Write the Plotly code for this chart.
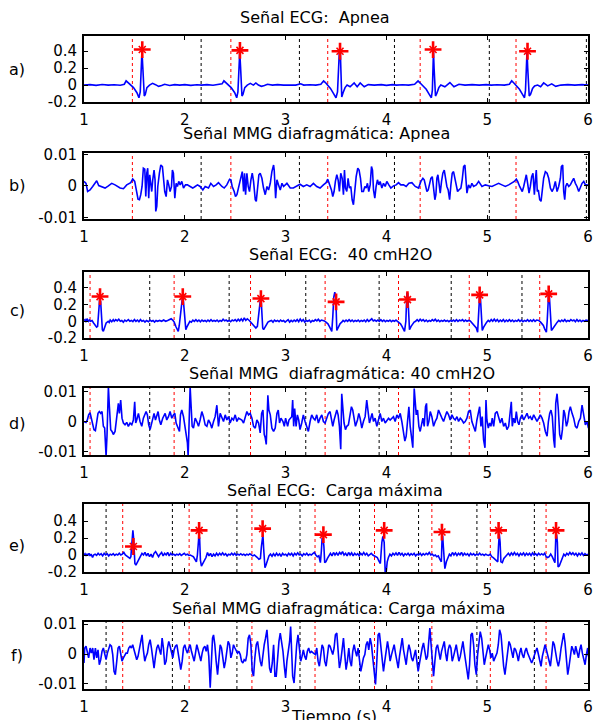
import plotly.graph_objects as go

# ---------------- DATA ----------------
# Panel a: ECG Apnea (time s, amplitude)
ecg_a_t = [1.00,1.06,1.12,1.18,1.24,1.30,1.36,1.40,1.418,1.435,1.465,1.491,1.525,1.545,1.558,1.566,1.575,1.583,1.590,1.598,1.608,1.624,1.650,1.680,1.710,1.740,1.770,1.800,1.850,1.900,1.950,2.000,2.060,2.120,2.165,2.220,2.280,2.340,2.370,2.388,2.405,2.435,2.460,2.495,2.515,2.527,2.536,2.545,2.553,2.560,2.567,2.577,2.595,2.620,2.650,2.680,2.705,2.730,2.760,2.790,2.820,2.870,2.920,2.980,3.040,3.100,3.150,3.180,3.240,3.300,3.350,3.377,3.395,3.420,3.445,3.470,3.500,3.515,3.525,3.533,3.543,3.550,3.557,3.570,3.590,3.610,3.640,3.680,3.710,3.740,3.780,3.820,3.880,3.950,4.000,4.060,4.100,4.160,4.220,4.280,4.314,4.330,4.360,4.395,4.425,4.446,4.456,4.462,4.467,4.473,4.480,4.487,4.500,4.520,4.540,4.580,4.630,4.670,4.720,4.780,4.850,4.920,4.990,5.040,5.100,5.170,5.220,5.243,5.260,5.290,5.320,5.350,5.370,5.380,5.388,5.395,5.402,5.410,5.417,5.430,5.450,5.470,5.500,5.530,5.560,5.600,5.640,5.680,5.730,5.800,5.870,5.940,6.000]
ecg_a_v = [0.000,0.005,-0.003,0.006,0.000,0.004,-0.002,0.010,0.050,0.030,0.000,-0.030,-0.090,-0.150,-0.080,0.220,0.400,0.220,-0.050,-0.130,-0.110,-0.030,0.000,0.020,0.005,-0.015,-0.005,0.010,-0.005,0.005,0.000,0.005,-0.003,0.004,0.000,0.005,-0.002,0.005,0.015,0.050,0.030,0.000,-0.030,-0.090,-0.150,-0.080,0.220,0.390,0.220,-0.050,-0.130,-0.110,-0.030,0.000,0.020,0.000,0.025,0.000,-0.015,-0.005,0.010,0.000,0.005,0.000,0.003,0.000,0.015,0.000,0.003,0.000,0.010,0.050,0.030,0.000,-0.040,-0.090,-0.150,-0.080,0.220,0.390,0.390,-0.060,-0.140,-0.090,-0.030,0.000,-0.020,0.025,-0.020,0.025,-0.020,0.005,0.000,0.005,-0.003,0.005,0.000,0.003,0.000,0.010,0.050,0.030,-0.010,-0.050,-0.110,-0.150,-0.060,0.250,0.400,0.200,-0.050,-0.130,-0.100,-0.030,0.000,-0.020,0.030,-0.020,0.010,0.000,0.005,0.000,0.005,0.000,0.003,0.000,0.010,0.050,0.030,-0.010,-0.050,-0.110,-0.150,-0.060,0.250,0.400,0.200,-0.050,-0.130,-0.110,-0.040,-0.010,0.000,-0.020,0.025,-0.010,0.015,-0.015,0.000,0.005,0.000,0.005,0.000]
peaks_a_t = [1.578, 2.547, 3.540, 4.463, 5.400]
peaks_a_v = [0.42, 0.41, 0.40, 0.42, 0.40]

# Panel b: MMG Apnea (values x 1e-3)
mmg_b_t = [1.000,1.020,1.036,1.060,1.086,1.109,1.126,1.146,1.175,1.209,1.242,1.275,1.308,1.331,1.358,1.391,1.424,1.464,1.483,1.503,1.523,1.536,1.550,1.563,1.576,1.589,1.603,1.613,1.623,1.632,1.642,1.652,1.662,1.672,1.682,1.695,1.705,1.712,1.722,1.732,1.748,1.762,1.778,1.788,1.801,1.815,1.828,1.841,1.854,1.868,1.877,1.887,1.901,1.914,1.927,1.940,1.954,1.970,1.987,2.007,2.026,2.053,2.079,2.103,2.126,2.152,2.179,2.202,2.235,2.258,2.285,2.311,2.334,2.368,2.391,2.417,2.444,2.457,2.470,2.490,2.503,2.517,2.536,2.556,2.570,2.583,2.593,2.603,2.616,2.629,2.642,2.656,2.669,2.682,2.699,2.709,2.722,2.735,2.748,2.765,2.781,2.798,2.815,2.831,2.848,2.864,2.881,2.887,2.901,2.914,2.930,2.947,2.964,2.980,3.013,3.046,3.077,3.110,3.143,3.176,3.210,3.243,3.276,3.309,3.342,3.375,3.402,3.418,3.435,3.455,3.468,3.481,3.494,3.508,3.521,3.534,3.547,3.561,3.574,3.584,3.594,3.607,3.620,3.633,3.647,3.660,3.673,3.686,3.700,3.716,3.729,3.743,3.756,3.772,3.786,3.799,3.812,3.825,3.839,3.852,3.862,3.872,3.885,3.898,3.911,3.925,3.938,3.955,3.971,3.988,4.004,4.024,4.044,4.070,4.097,4.120,4.143,4.170,4.196,4.223,4.253,4.286,4.319,4.342,4.362,4.375,4.388,4.402,4.415,4.428,4.441,4.455,4.468,4.481,4.491,4.501,4.511,4.521,4.534,4.547,4.560,4.574,4.587,4.600,4.613,4.627,4.640,4.653,4.666,4.680,4.693,4.706,4.719,4.739,4.752,4.766,4.779,4.789,4.799,4.815,4.832,4.848,4.865,4.892,4.915,4.948,4.981,5.014,5.047,5.080,5.113,5.146,5.180,5.213,5.246,5.269,5.289,5.302,5.322,5.335,5.348,5.362,5.375,5.388,5.401,5.415,5.428,5.441,5.454,5.468,5.478,5.487,5.497,5.507,5.521,5.534,5.547,5.560,5.577,5.594,5.610,5.627,5.643,5.660,5.676,5.693,5.709,5.726,5.736,5.749,5.759,5.769,5.779,5.792,5.809,5.825,5.842,5.858,5.875,5.891,5.908,5.925,5.941,5.958,5.974,5.991,6.004]
mmg_b_v = [1.4,0.8,-1.8,-1.3,-0.2,1.0,1.6,0.1,-0.2,-0.7,0.0,0.8,0.3,-0.2,-0.7,-0.9,0.3,1.0,2.2,1.4,-1.8,-4.2,-4.4,-2.8,-0.2,5.6,5.3,-3.4,4.0,5.6,-3.9,3.5,0.8,-1.8,1.9,5.0,1.9,-8.1,-6.5,-0.2,4.0,6.6,6.1,1.9,-1.8,-3.4,1.9,0.3,-1.8,-0.2,5.0,4.0,-3.9,0.8,-0.2,1.4,0.3,1.4,-0.7,0.3,0.3,-0.2,-0.7,-0.2,0.3,-0.2,-1.3,-0.2,-0.7,0.8,-0.2,0.3,1.0,-0.2,-0.7,0.3,2.1,1.9,-0.2,-1.8,-3.4,-2.8,-0.2,3.2,4.5,-1.8,4.0,-2.8,4.0,-0.2,-1.8,1.9,4.0,1.4,-4.4,-4.9,-0.2,3.5,4.0,2.4,-0.7,-2.8,-0.2,-1.3,0.8,4.5,6.6,5.0,-3.9,1.9,0.3,-1.3,0.8,-0.2,0.8,-0.7,-0.7,-0.2,0.5,-0.2,0.3,-0.2,0.8,-0.2,-0.7,0.3,1.0,2.1,0.8,-1.3,-3.4,-1.8,1.4,3.5,1.9,-1.8,4.0,2.4,-2.8,5.0,-0.7,-1.8,2.4,-0.7,-0.2,-4.4,-6.0,-1.8,2.9,5.6,5.0,2.4,-1.8,-1.8,-0.2,-0.7,0.8,-1.8,0.3,6.1,5.0,-1.3,-3.9,-0.2,1.9,0.3,1.4,-0.7,0.8,-0.2,1.4,0.3,-0.7,0.0,0.3,1.0,0.3,0.3,-0.2,0.8,1.0,-0.2,-0.7,1.4,2.4,1.9,-0.2,-1.8,-1.3,0.3,2.4,2.9,-0.2,-4.4,-2.8,2.4,3.5,-0.2,-2.3,1.4,4.0,5.0,1.4,-0.2,-1.3,-4.4,0.3,4.0,4.5,1.9,-0.7,-1.8,-1.3,-0.7,1.9,6.1,6.6,0.3,-2.3,0.3,-0.7,0.8,-0.2,0.3,1.4,-0.2,0.3,0.0,-0.2,0.3,0.8,0.3,-0.2,0.3,0.8,1.4,2.1,1.4,-0.2,-1.3,-1.8,-0.2,2.4,3.5,0.8,-2.3,-0.2,2.9,4.0,-2.8,1.9,5.0,-1.8,-1.3,-4.4,-4.9,-1.3,2.4,4.5,4.0,2.4,-0.7,-1.8,-0.7,1.4,-1.8,-0.2,2.4,6.1,6.6,-1.8,-4.4,-0.2,0.8,-0.2,0.3,1.4,2.4,0.8,-0.2,-1.8,-0.2,0.8,1.4,0.3,0.3,0.0]

# Panel c: ECG 40 cmH2O
ecg_c_t = [1.000,1.010,1.020,1.030,1.045,1.055,1.065,1.080,1.095,1.110,1.125,1.135,1.145,1.155,1.165,1.175,1.182,1.192,1.205,1.220,1.240,1.250,1.260,1.275,1.290,1.300,1.315,1.330,1.345,1.360,1.375,1.390,1.405,1.420,1.440,1.455,1.470,1.485,1.500,1.515,1.530,1.545,1.560,1.575,1.590,1.605,1.620,1.640,1.655,1.670,1.685,1.700,1.715,1.730,1.750,1.770,1.790,1.810,1.830,1.850,1.865,1.880,1.895,1.910,1.925,1.935,1.945,1.960,1.975,1.985,1.995,2.002,2.010,2.020,2.035,2.050,2.065,2.080,2.095,2.110,2.125,2.140,2.155,2.170,2.185,2.200,2.215,2.230,2.245,2.260,2.275,2.290,2.305,2.320,2.335,2.350,2.365,2.380,2.395,2.410,2.425,2.440,2.455,2.470,2.485,2.500,2.515,2.530,2.545,2.560,2.575,2.590,2.605,2.620,2.640,2.655,2.670,2.690,2.705,2.720,2.735,2.748,2.758,2.765,2.773,2.782,2.795,2.810,2.825,2.840,2.860,2.875,2.890,2.905,2.920,2.935,2.950,2.965,2.980,2.995,3.010,3.025,3.040,3.055,3.070,3.085,3.100,3.115,3.130,3.145,3.160,3.175,3.190,3.205,3.220,3.235,3.250,3.265,3.280,3.295,3.310,3.325,3.340,3.355,3.370,3.385,3.400,3.420,3.435,3.450,3.458,3.468,3.478,3.488,3.498,3.508,3.524,3.540,3.557,3.570,3.585,3.600,3.615,3.630,3.645,3.660,3.675,3.690,3.705,3.720,3.735,3.750,3.765,3.780,3.795,3.810,3.825,3.840,3.855,3.870,3.885,3.900,3.915,3.930,3.945,3.960,3.975,3.990,4.005,4.020,4.035,4.050,4.065,4.080,4.095,4.110,4.125,4.140,4.155,4.170,4.180,4.193,4.203,4.212,4.218,4.229,4.245,4.260,4.275,4.290,4.305,4.320,4.335,4.350,4.365,4.380,4.395,4.410,4.425,4.440,4.455,4.470,4.485,4.500,4.515,4.530,4.545,4.560,4.575,4.590,4.605,4.620,4.635,4.650,4.665,4.680,4.695,4.710,4.725,4.740,4.755,4.770,4.785,4.800,4.815,4.832,4.850,4.865,4.880,4.892,4.905,4.915,4.925,4.932,4.938,4.951,4.965,4.980,4.995,5.010,5.025,5.040,5.055,5.070,5.085,5.100,5.115,5.130,5.145,5.160,5.175,5.190,5.205,5.220,5.235,5.250,5.265,5.280,5.295,5.310,5.325,5.340,5.355,5.370,5.385,5.400,5.415,5.430,5.445,5.460,5.475,5.490,5.511,5.530,5.544,5.557,5.570,5.587,5.595,5.603,5.610,5.617,5.625,5.637,5.650,5.665,5.680,5.695,5.710,5.725,5.740,5.755,5.770,5.785,5.800,5.815,5.830,5.845,5.860,5.875,5.890,5.905,5.920,5.935,5.950,5.965,5.980,5.995,6.000]
ecg_c_v = [0.010,0.020,-0.010,0.030,0.000,0.015,0.000,0.010,-0.020,-0.050,-0.070,-0.060,0.100,0.260,0.240,0.000,-0.100,-0.120,-0.060,-0.020,0.000,-0.015,0.015,-0.005,0.020,0.000,0.020,0.005,0.025,0.000,0.010,-0.010,0.015,0.000,0.020,0.000,0.010,-0.005,0.020,0.000,0.015,-0.005,0.020,0.000,0.010,-0.010,0.010,-0.005,0.015,0.000,0.010,-0.010,0.010,0.000,0.010,0.000,0.015,0.000,0.010,0.020,0.030,0.015,-0.010,-0.060,-0.090,-0.120,-0.050,0.150,0.270,0.260,0.100,-0.080,-0.100,-0.070,-0.030,0.000,-0.010,0.015,0.000,0.020,0.000,0.015,-0.005,0.015,0.000,0.010,-0.005,0.015,0.000,0.020,0.000,0.010,0.000,0.015,-0.005,0.010,0.000,0.025,0.005,0.015,0.000,0.010,-0.005,0.015,0.005,0.020,0.000,0.025,0.005,0.030,0.005,0.040,0.010,0.030,0.010,-0.010,-0.030,-0.060,-0.080,-0.060,0.100,0.240,0.250,0.100,-0.080,-0.100,-0.070,-0.030,-0.010,0.000,0.010,-0.010,0.015,0.000,0.010,-0.005,0.015,0.000,0.010,-0.010,0.005,0.020,-0.010,0.010,-0.005,0.015,0.000,0.020,-0.005,0.028,0.000,0.020,-0.010,0.010,0.000,0.015,-0.010,0.010,0.000,0.020,0.005,0.025,0.000,0.015,0.010,0.005,-0.010,-0.030,-0.065,-0.100,-0.120,0.050,0.290,0.350,0.290,-0.110,-0.065,-0.030,-0.010,0.010,-0.005,0.015,0.000,0.020,0.000,0.015,-0.005,0.010,0.000,0.015,-0.005,0.010,0.000,0.015,-0.005,0.020,0.000,0.015,0.030,0.005,0.015,0.000,0.015,0.000,0.020,0.000,0.015,-0.005,0.010,0.000,0.015,-0.005,0.010,0.000,0.015,0.000,-0.010,-0.030,-0.060,-0.100,-0.120,0.000,0.340,0.330,0.100,-0.100,-0.060,-0.030,-0.010,0.000,0.020,0.000,0.025,0.005,0.020,0.000,0.015,-0.005,0.010,0.000,0.020,0.005,0.025,0.000,0.015,-0.005,0.010,0.000,0.015,0.000,0.010,-0.005,0.010,0.000,0.015,0.000,0.020,0.000,0.015,0.005,0.020,0.000,0.015,0.000,0.010,0.005,-0.020,-0.030,-0.060,-0.080,-0.130,0.050,0.310,0.300,0.150,-0.110,-0.070,-0.030,-0.010,0.010,-0.005,0.020,0.000,0.025,0.000,0.020,-0.005,0.015,0.000,0.020,-0.005,0.015,0.000,0.020,0.000,0.015,-0.005,0.010,0.000,0.020,0.000,0.015,-0.005,0.010,0.000,0.020,0.000,0.015,0.000,0.020,0.000,0.015,0.010,-0.010,-0.030,-0.050,-0.090,-0.130,0.000,0.300,0.350,0.300,0.100,-0.110,-0.090,-0.060,-0.030,-0.010,0.010,-0.005,0.015,0.000,0.020,-0.005,0.010,0.000,0.020,0.005,0.015,-0.005,0.020,0.000,0.015,-0.005,0.010,0.000,0.015,0.005,0.010]
peaks_c_t = [1.159, 1.980, 2.755, 3.501, 4.209, 4.925, 5.610]
peaks_c_v = [0.296, 0.296, 0.272, 0.232, 0.260, 0.316, 0.328]

# Panel d: MMG 40 cmH2O (values x 1e-3)
mmg_d_t = [1.000,1.020,1.033,1.046,1.060,1.073,1.086,1.099,1.113,1.126,1.139,1.152,1.166,1.179,1.192,1.205,1.219,1.228,1.242,1.252,1.265,1.278,1.291,1.308,1.325,1.341,1.351,1.364,1.377,1.391,1.407,1.424,1.440,1.457,1.474,1.490,1.503,1.513,1.523,1.540,1.556,1.573,1.589,1.616,1.629,1.642,1.656,1.669,1.682,1.695,1.709,1.722,1.735,1.748,1.762,1.781,1.805,1.821,1.838,1.854,1.871,1.887,1.901,1.914,1.934,1.947,1.957,1.970,1.987,2.000,2.013,2.026,2.033,2.040,2.053,2.063,2.073,2.086,2.103,2.119,2.136,2.152,2.169,2.185,2.202,2.219,2.235,2.252,2.268,2.285,2.301,2.318,2.334,2.351,2.368,2.384,2.401,2.417,2.434,2.450,2.467,2.483,2.500,2.517,2.533,2.550,2.566,2.583,2.599,2.616,2.632,2.649,2.666,2.682,2.699,2.715,2.732,2.748,2.762,2.775,2.788,2.798,2.808,2.815,2.824,2.834,2.848,2.864,2.881,2.897,2.914,2.927,2.940,2.954,2.974,2.987,3.000,3.020,3.033,3.061,3.070,3.080,3.090,3.104,3.117,3.130,3.143,3.160,3.176,3.193,3.210,3.226,3.243,3.259,3.276,3.292,3.309,3.325,3.342,3.359,3.375,3.392,3.408,3.425,3.441,3.455,3.468,3.481,3.494,3.508,3.521,3.534,3.547,3.557,3.567,3.580,3.594,3.607,3.623,3.640,3.653,3.666,3.680,3.693,3.713,3.726,3.739,3.756,3.772,3.789,3.805,3.819,3.832,3.845,3.858,3.872,3.888,3.905,3.921,3.938,3.955,3.971,3.988,4.004,4.021,4.037,4.054,4.070,4.087,4.104,4.120,4.137,4.153,4.170,4.183,4.196,4.209,4.223,4.236,4.249,4.262,4.276,4.286,4.296,4.309,4.322,4.335,4.349,4.362,4.375,4.388,4.398,4.408,4.421,4.435,4.451,4.468,4.484,4.501,4.517,4.534,4.551,4.567,4.584,4.600,4.617,4.633,4.650,4.666,4.683,4.700,4.716,4.733,4.749,4.766,4.782,4.799,4.815,4.832,4.848,4.865,4.882,4.898,4.915,4.925,4.938,4.951,4.964,4.978,4.988,4.997,5.011,5.024,5.037,5.050,5.064,5.080,5.097,5.113,5.130,5.146,5.163,5.180,5.196,5.213,5.229,5.239,5.249,5.262,5.276,5.289,5.302,5.315,5.329,5.345,5.362,5.378,5.395,5.411,5.428,5.444,5.461,5.478,5.494,5.511,5.527,5.544,5.560,5.577,5.594,5.607,5.620,5.633,5.646,5.660,5.670,5.680,5.693,5.706,5.719,5.733,5.746,5.759,5.769,5.786,5.799,5.812,5.825,5.842,5.858,5.875,5.891,5.908,5.925,5.941,5.958,5.974,5.991,6.004]
mmg_d_v = [0,-0.3,0.5,2.2,2.9,1.1,-1.1,-2.7,-3.0,-0.5,2.7,3.3,2.7,3.3,-1.6,-2.2,-11.5,-4.9,11.5,4.9,-2.7,-3.3,-4.3,-3.3,1.6,6.0,2.7,7.1,1.1,-0.5,-1.1,-0.3,-1.6,-0.5,-1.1,0.5,6.5,-0.5,0.5,2.7,0,-1.6,1.1,3.3,2.2,-1.1,-2.7,-0.5,1.6,2.7,0.5,2.2,3.3,0.5,-1.1,1.1,2.7,0.5,1.6,3.3,1.1,2.2,2.7,-0.5,-2.2,-3.3,2.2,3.8,1.6,-1.6,-4.9,-7.1,-11.5,0.5,11.5,4.9,-1.6,-2.2,1.1,0,-1.6,0.5,3.3,1.6,-1.1,-1.6,0.5,-0.5,-2.2,0,1.6,5.4,-1.6,2.7,1.1,0,2.2,0.5,1.6,-0.5,1.1,0.5,2.2,0,1.1,0.8,0.5,-0.5,1.6,3.3,2.2,2.7,1.1,-1.6,-2.2,0.5,-0.5,-3.8,2.7,3.8,-4.3,-5.4,-7.6,-1.1,8.7,3.8,2.2,-2.2,-3.3,-2.2,2.7,3.8,-0.5,1.1,0,-1.6,1.1,-1.6,0.5,1.6,7.1,-1.6,4.3,-1.6,2.2,0.5,-2.7,-0.5,2.2,0,-1.6,-3.3,0,2.2,1.1,0.5,2.2,-0.5,1.1,2.2,0,-0.5,1.1,2.7,3.3,1.1,-1.6,0.5,2.7,3.8,2.2,-1.6,-9.2,9.2,4.9,-0.5,-2.7,-1.6,-1.1,2.7,4.9,3.8,1.1,-1.6,0.5,2.7,1.1,-2.2,0,1.6,7.1,2.2,-0.5,1.1,2.7,0,1.1,-1.6,0.5,2.7,0,1.1,-0.5,0.5,1.1,0.5,1.1,1.6,0,2.2,1.1,2.7,0,-3.3,-6.5,-4.9,1.1,4.9,-1.6,-4.9,-8.7,10.9,4.9,2.2,3.8,-1.6,-3.3,-1.1,1.1,-1.6,4.9,6.0,-1.6,0,3.3,1.6,-1.6,0,1.1,3.8,2.2,1.1,0,1.6,3.3,2.2,0.5,2.2,1.1,0.5,1.6,0,1.1,0.5,-0.5,0,1.1,3.3,3.8,0,-1.6,-3.3,0.5,3.8,4.9,-1.6,1.6,-6.0,-8.7,7.1,0.5,-2.2,-0.5,-1.6,1.1,-1.6,2.7,3.3,1.1,-0.5,1.1,-1.6,-0.5,-2.7,-1.6,3.8,6.5,-1.6,1.1,-0.5,3.3,0,-1.1,1.1,2.2,0.5,1.6,2.7,1.1,1.6,0.5,2.2,1.1,0,1.1,2.2,1.1,-0.5,-3.3,-4.9,0,2.7,3.8,1.6,-6.0,-8.7,6.0,9.2,3.8,-4.3,-6.0,-2.7,3.8,2.7,-1.6,0,3.3,4.9,2.7,1.1,-1.6,-2.2,0,1.1,5.4,1.6,-1.1,0,-2.2]

# Panel e: ECG Carga maxima
ecg_e_t = [1.000,1.010,1.020,1.030,1.040,1.050,1.060,1.070,1.085,1.095,1.110,1.125,1.140,1.155,1.170,1.185,1.200,1.215,1.230,1.245,1.260,1.275,1.290,1.305,1.320,1.335,1.350,1.365,1.380,1.395,1.410,1.425,1.440,1.455,1.465,1.475,1.485,1.492,1.498,1.505,1.515,1.530,1.545,1.560,1.575,1.590,1.605,1.620,1.635,1.650,1.665,1.680,1.695,1.710,1.725,1.740,1.755,1.770,1.785,1.800,1.815,1.830,1.845,1.860,1.875,1.890,1.905,1.920,1.935,1.950,1.965,1.980,1.995,2.010,2.025,2.040,2.055,2.070,2.085,2.100,2.115,2.125,2.133,2.140,2.147,2.155,2.165,2.180,2.195,2.210,2.225,2.240,2.255,2.270,2.285,2.300,2.315,2.330,2.345,2.360,2.375,2.390,2.405,2.420,2.435,2.450,2.465,2.480,2.495,2.510,2.525,2.540,2.555,2.570,2.585,2.600,2.615,2.630,2.645,2.660,2.675,2.690,2.705,2.720,2.735,2.750,2.760,2.768,2.775,2.782,2.788,2.795,2.805,2.820,2.835,2.850,2.865,2.880,2.895,2.910,2.925,2.940,2.955,2.970,2.985,3.000,3.015,3.030,3.045,3.060,3.075,3.090,3.105,3.120,3.135,3.150,3.165,3.180,3.195,3.210,3.225,3.240,3.255,3.270,3.285,3.300,3.315,3.330,3.345,3.355,3.362,3.372,3.380,3.388,3.400,3.415,3.430,3.445,3.460,3.475,3.490,3.505,3.520,3.535,3.550,3.565,3.580,3.595,3.610,3.625,3.640,3.655,3.670,3.685,3.700,3.715,3.730,3.745,3.760,3.775,3.790,3.805,3.820,3.835,3.850,3.865,3.880,3.895,3.910,3.925,3.940,3.955,3.965,3.978,3.988,3.998,4.008,4.020,4.035,4.050,4.065,4.080,4.095,4.110,4.125,4.140,4.155,4.170,4.185,4.200,4.215,4.230,4.245,4.260,4.275,4.290,4.305,4.320,4.335,4.350,4.365,4.380,4.395,4.410,4.425,4.440,4.455,4.470,4.485,4.500,4.515,4.530,4.545,4.552,4.558,4.565,4.572,4.580,4.595,4.610,4.625,4.640,4.655,4.670,4.685,4.700,4.715,4.730,4.745,4.760,4.775,4.790,4.805,4.820,4.835,4.850,4.865,4.880,4.895,4.910,4.925,4.940,4.955,4.970,4.985,5.000,5.015,5.030,5.045,5.060,5.075,5.090,5.105,5.112,5.120,5.128,5.136,5.150,5.165,5.180,5.195,5.210,5.225,5.240,5.255,5.270,5.285,5.300,5.315,5.330,5.345,5.360,5.375,5.390,5.405,5.420,5.435,5.450,5.465,5.480,5.495,5.510,5.525,5.540,5.555,5.570,5.585,5.600,5.615,5.630,5.645,5.660,5.672,5.680,5.688,5.696,5.703,5.715,5.730,5.745,5.760,5.775,5.790,5.805,5.820,5.835,5.850,5.865,5.880,5.895,5.910,5.925,5.940,5.955,5.970,5.985,6.000]
ecg_e_v = [0.000,0.015,-0.010,0.010,0.000,0.020,-0.010,0.010,-0.030,0.000,0.010,-0.005,0.020,0.000,0.015,-0.010,0.020,0.000,0.015,-0.010,0.010,0.000,0.015,-0.005,0.010,0.000,0.020,0.000,0.010,0.030,0.000,-0.010,-0.020,-0.040,-0.020,0.100,0.290,0.200,-0.050,-0.100,-0.120,-0.080,-0.040,-0.010,0.020,0.000,0.030,-0.010,0.020,-0.020,0.010,-0.030,0.020,0.040,0.000,-0.020,0.010,0.030,-0.010,0.020,0.000,0.030,-0.010,0.020,0.000,0.010,-0.005,0.010,0.000,0.015,-0.005,0.010,0.020,0.000,0.010,-0.005,0.000,-0.010,-0.020,-0.050,-0.080,0.000,0.200,0.230,0.200,-0.060,-0.130,-0.100,-0.060,-0.030,0.030,-0.010,0.020,-0.020,0.010,-0.010,0.020,-0.005,0.020,0.000,0.025,0.000,0.015,-0.010,0.010,0.000,0.020,0.000,0.020,-0.005,0.010,0.000,0.015,0.000,0.010,-0.005,0.010,0.000,0.015,0.000,-0.010,0.000,-0.010,-0.030,-0.050,-0.040,0.100,0.240,0.240,0.080,-0.100,-0.150,-0.120,-0.060,-0.010,0.010,-0.015,0.015,-0.010,0.020,-0.005,0.015,-0.015,0.020,0.000,0.010,-0.010,0.020,0.000,0.020,-0.010,0.020,0.000,0.025,0.000,0.010,-0.010,0.015,0.000,0.020,-0.005,0.010,0.000,0.015,0.030,0.000,-0.020,-0.010,-0.090,0.050,0.190,0.190,0.100,-0.090,-0.080,-0.040,-0.010,0.020,-0.010,0.030,0.000,0.025,-0.005,0.030,0.010,0.040,0.000,0.020,-0.010,0.030,0.000,0.025,-0.010,0.020,0.000,0.015,-0.010,0.020,0.000,0.030,0.000,0.020,-0.010,0.010,0.020,0.000,-0.010,-0.020,-0.030,-0.070,-0.100,0.150,0.220,0.150,-0.200,-0.200,-0.080,-0.030,0.010,-0.010,0.020,0.000,0.025,-0.005,0.030,0.000,0.020,-0.010,0.015,0.000,0.020,-0.005,0.015,0.000,0.020,-0.010,0.010,0.000,0.020,-0.005,0.015,0.000,0.020,0.005,0.030,0.000,0.010,-0.010,0.000,-0.020,-0.010,-0.050,-0.080,0.190,0.230,0.100,-0.130,-0.160,-0.080,-0.030,0.010,-0.010,0.030,0.000,0.025,-0.005,0.020,0.000,0.030,-0.005,0.020,0.000,0.015,-0.010,0.020,0.000,0.015,-0.005,0.010,0.000,0.020,0.000,0.010,-0.005,0.010,0.000,-0.005,0.010,-0.020,-0.030,-0.050,-0.070,-0.080,0.100,0.250,0.150,-0.080,-0.090,-0.040,-0.020,0.000,0.020,-0.005,0.025,0.000,0.030,0.000,0.020,-0.010,0.020,0.000,0.025,-0.005,0.020,0.000,0.020,-0.005,0.025,0.000,0.015,-0.005,0.020,0.000,0.015,0.000,0.020,-0.020,-0.030,-0.020,0.010,-0.020,-0.060,-0.090,0.190,0.240,0.150,-0.140,-0.130,-0.080,-0.030,0.010,-0.010,0.020,0.000,0.030,0.005,0.025,0.000,0.020,-0.010,0.020,0.000,0.025,-0.005,0.015,0.000,0.010]
peaks_e_t = [1.490, 2.142, 2.772, 3.375, 3.978, 4.551, 5.113, 5.683]
peaks_e_v = [0.10, 0.29, 0.31, 0.24, 0.29, 0.27, 0.29, 0.29]

# Panel f: MMG Carga maxima (values x 1e-3)
mmg_f_t = [1.000,1.007,1.020,1.033,1.046,1.060,1.073,1.086,1.099,1.113,1.126,1.139,1.152,1.166,1.179,1.192,1.205,1.219,1.232,1.245,1.258,1.272,1.285,1.298,1.311,1.325,1.338,1.351,1.364,1.377,1.391,1.404,1.417,1.430,1.444,1.457,1.470,1.483,1.497,1.510,1.523,1.536,1.550,1.563,1.576,1.589,1.603,1.616,1.629,1.642,1.656,1.669,1.682,1.695,1.709,1.722,1.735,1.748,1.762,1.775,1.788,1.801,1.815,1.828,1.841,1.854,1.868,1.881,1.894,1.907,1.921,1.934,1.947,1.960,1.974,1.987,2.000,2.013,2.026,2.040,2.053,2.066,2.079,2.093,2.106,2.119,2.132,2.146,2.159,2.172,2.185,2.199,2.212,2.225,2.238,2.252,2.262,2.275,2.285,2.298,2.311,2.325,2.338,2.351,2.364,2.377,2.391,2.404,2.417,2.430,2.444,2.457,2.470,2.483,2.497,2.510,2.523,2.536,2.550,2.563,2.576,2.589,2.603,2.616,2.629,2.642,2.656,2.669,2.682,2.695,2.709,2.722,2.735,2.748,2.762,2.775,2.788,2.801,2.815,2.828,2.841,2.854,2.868,2.881,2.894,2.907,2.921,2.934,2.947,2.960,2.974,2.987,3.000,3.013,3.026,3.040,3.050,3.070,3.084,3.097,3.110,3.123,3.137,3.150,3.163,3.176,3.190,3.203,3.216,3.229,3.243,3.256,3.276,3.296,3.309,3.322,3.335,3.349,3.362,3.375,3.388,3.402,3.415,3.428,3.441,3.455,3.468,3.481,3.494,3.508,3.521,3.534,3.547,3.561,3.574,3.587,3.600,3.613,3.627,3.640,3.653,3.666,3.680,3.693,3.706,3.719,3.733,3.746,3.759,3.772,3.786,3.799,3.812,3.825,3.839,3.852,3.865,3.878,3.892,3.905,3.918,3.931,3.945,3.958,3.971,3.984,3.998,4.011,4.024,4.037,4.051,4.064,4.077,4.090,4.104,4.117,4.130,4.143,4.157,4.170,4.183,4.196,4.209,4.223,4.236,4.249,4.262,4.276,4.289,4.302,4.315,4.329,4.342,4.355,4.368,4.382,4.395,4.408,4.421,4.431,4.441,4.455,4.468,4.481,4.494,4.507,4.521,4.534,4.547,4.560,4.574,4.587,4.600,4.613,4.627,4.640,4.653,4.666,4.680,4.693,4.706,4.719,4.733,4.746,4.759,4.772,4.786,4.799,4.812,4.825,4.839,4.852,4.865,4.878,4.892,4.905,4.918,4.931,4.945,4.958,4.971,4.984,4.997,5.011,5.024,5.037,5.050,5.064,5.077,5.097,5.110,5.123,5.137,5.150,5.163,5.176,5.190,5.203,5.216,5.229,5.243,5.256,5.269,5.282,5.296,5.309,5.322,5.335,5.348,5.362,5.375,5.388,5.401,5.415,5.428,5.441,5.454,5.468,5.481,5.494,5.507,5.521,5.534,5.547,5.560,5.574,5.587,5.600,5.613,5.627,5.640,5.653,5.666,5.680,5.693,5.706,5.719,5.733,5.746,5.759,5.772,5.786,5.799,5.812,5.825,5.839,5.852,5.865,5.878,5.891,5.905,5.918,5.931,5.944,5.958,5.971,5.984,5.997,6.004]
mmg_f_v = [-3.0,2.0,2.6,0.9,-1.3,2.0,0.3,2.0,-1.9,2.0,-1.3,1.4,-3.6,-1.9,0.9,2.0,-0.2,-1.9,0.3,2.0,3.1,2.6,-0.2,-5.8,-6.9,-2.4,2.0,2.6,-0.2,-2.4,-1.3,-0.2,0.3,0.3,2.0,2.6,2.0,3.1,1.4,-0.8,-1.9,-0.8,2.0,4.2,6.4,1.4,-2.4,-0.8,0.3,3.1,4.8,2.0,-2.4,-4.7,-0.8,2.0,3.1,1.4,-0.2,5.3,2.0,-3.6,-2.4,2.0,4.2,2.6,0.3,-1.3,1.4,2.6,3.1,0.9,-2.4,-5.2,-2.4,2.0,3.1,1.4,0.3,2.0,3.1,0.9,-1.3,-2.4,0.3,3.1,1.4,-1.3,-2.4,0.3,2.0,2.6,0.9,3.1,-0.8,-11.3,-2.4,5.3,6.4,3.1,-2.4,-6.9,-1.9,3.1,2.0,-1.3,-4.7,-2.4,1.4,4.2,3.1,-1.3,0.3,3.1,2.0,0.9,0.3,0.9,-0.2,-2.4,-3.0,-1.9,-2.4,-0.2,5.3,6.4,3.1,-5.8,-7.4,-1.3,3.1,4.2,0.3,-2.4,-4.1,0.3,3.1,5.3,8.1,2.0,-4.7,-6.3,-3.0,3.1,-7.4,-7.4,-0.2,4.2,7.0,4.2,0.9,-4.1,-8.0,-2.4,0.3,4.2,9.2,-7.4,-9.7,-2.4,3.1,6.4,2.0,-2.4,-0.8,1.4,-0.8,-1.9,0.9,2.0,0.3,0.9,0.3,-0.2,2.0,-2.4,-4.1,0.9,3.1,2.0,-2.4,-4.1,-0.8,3.1,2.6,0.9,-0.2,2.0,6.4,7.0,-0.8,-4.7,-2.4,2.0,5.3,-0.2,-5.2,-2.4,2.0,-2.4,-4.1,0.9,3.1,0.9,-0.8,2.0,-1.3,-5.8,-3.6,-1.3,-0.2,3.1,4.2,1.4,5.3,3.1,-1.3,-5.8,-10.2,-2.4,6.4,7.0,3.1,-2.4,-5.8,-2.4,2.0,4.2,1.4,-2.4,-0.2,1.4,3.1,0.3,-2.4,-4.7,-0.8,3.1,5.3,1.4,-1.9,-3.6,0.3,3.1,1.4,-1.3,-2.4,-0.2,1.4,-2.4,-5.8,-3.0,0.3,2.0,3.7,0.9,-1.9,-0.8,5.3,8.7,4.2,-3.6,-7.4,-2.4,2.0,3.1,-0.2,-1.9,0.9,3.1,4.2,0.3,-2.4,1.4,3.1,2.0,-2.4,-0.8,1.4,3.1,0.3,-2.4,-0.8,2.0,4.2,0.9,-2.4,-5.8,-8.5,-3.6,6.4,7.0,3.1,-3.6,-6.9,-0.2,4.2,7.5,5.3,-0.8,-3.6,-1.3,1.4,3.1,1.4,-1.3,0.3,-2.4,-1.3,0.3,3.1,8.1,6.4,-0.2,-4.1,-6.9,-2.4,2.0,4.2,3.1,0.3,-1.3,2.0,1.4,-0.2,-2.4,0.3,2.0,-0.2,-1.3,0.9,2.0,0.3,-0.8,-2.4,-3.0,-1.9,-0.2,0.9,2.0,0.3,-2.4,-4.1,-0.8,1.4,3.1,1.4,-0.8,-2.4,-4.1,-0.2,4.2,3.1,-0.2,-2.4,-4.1,-1.9,2.0,4.2,7.0,3.7,-1.9,-6.9,-4.1,0.3,2.6,1.4,-0.2,2.6,0.9,-1.3,1.4,3.1,0.3,-2.4,-3.6,-0.2,2.0,-0.8]

# Markers of detected events (vertical dotted lines), seconds
red_ab = [1.480, 2.457, 3.418, 4.335, 5.286]
black_ab = [2.162, 3.137, 4.080, 5.021, 5.984]
red_cd = [1.060, 1.894, 2.652, 3.392, 4.120, 4.822, 5.521]
black_cd = [1.652, 2.440, 3.200, 3.928, 4.643, 5.345]
red_ef = [1.384, 2.043, 2.666, 3.292, 3.882, 4.451, 5.031, 5.584]
black_ef = [1.219, 1.877, 2.517, 3.143, 3.733, 4.319, 4.898, 5.468]

titles = ["Señal ECG:  Apnea", "Señal MMG diafragmática: Apnea", "Señal ECG:  40 cmH2O",
          "Señal MMG  diafragmática: 40 cmH2O", "Señal ECG:  Carga máxima", "Señal MMG diafragmática: Carga máxima"]
panel_labels = ["a)", "b)", "c)", "d)", "e)", "f)"]
x_ticks = [1, 2, 3, 4, 5, 6]
ecg_ticks = [-0.2, 0, 0.2, 0.4]
ecg_tick_text = ["-0.2", "0", "0.2", "0.4"]
mmg_ticks = [-0.01, 0, 0.01]
mmg_tick_text = ["-0.01", "0", "0.01"]
MMG_SCALE = 1e-3  # MMG arrays above are stored in units of 1e-3

# ---------------- LAYOUT ----------------
W, H = 594, 720
ML, MR = 84, 6
PW = W - ML - MR
# pixel boxes (top, bottom) of each panel
boxes = [(36, 102), (153, 219), (272, 338), (388, 455), (504, 572), (622, 689)]
yranges = [[-0.2, 0.58], [-0.0105, 0.0104], [-0.2, 0.59], [-0.0111, 0.0111], [-0.2, 0.6], [-0.0117, 0.0107]]
title_pos = [(315, 17), (316, 133), (340, 254), (342, 373), (335, 490), (338, 608)]
label_y = [70, 186, 310, 423, 545, 655]

FONT = "DejaVu Sans"
BLUE = "#0000FF"

fig = go.Figure()

signals = [
    (ecg_a_t, ecg_a_v, 1.0),
    (mmg_b_t, mmg_b_v, MMG_SCALE),
    (ecg_c_t, ecg_c_v, 1.0),
    (mmg_d_t, mmg_d_v, MMG_SCALE),
    (ecg_e_t, ecg_e_v, 1.0),
    (mmg_f_t, mmg_f_v, MMG_SCALE),
]
peaks = {0: (peaks_a_t, peaks_a_v), 2: (peaks_c_t, peaks_c_v), 4: (peaks_e_t, peaks_e_v)}
vlines = [(red_ab, black_ab), (red_ab, black_ab), (red_cd, black_cd), (red_cd, black_cd), (red_ef, black_ef), (red_ef, black_ef)]

shapes = []
annotations = []
for i in range(6):
    xa = "x" if i == 0 else f"x{i+1}"
    ya = "y" if i == 0 else f"y{i+1}"
    t, v, s = signals[i]
    fig.add_trace(go.Scatter(x=t, y=[val * s for val in v], mode="lines",
                             line=dict(color=BLUE, width=1.6), xaxis=xa, yaxis=ya,
                             showlegend=False, hoverinfo="skip"))
    if i in peaks:
        pt, pv = peaks[i]
        fig.add_trace(go.Scatter(x=pt, y=pv, mode="markers",
                                 marker=dict(symbol="cross-thin-open", size=12, color="red",
                                             line=dict(color="red", width=2.6)),
                                 xaxis=xa, yaxis=ya, showlegend=False, hoverinfo="skip"))
        fig.add_trace(go.Scatter(x=pt, y=pv, mode="markers",
                                 marker=dict(symbol="x-thin-open", size=7, color="red",
                                             line=dict(color="red", width=1.6)),
                                 xaxis=xa, yaxis=ya, showlegend=False, hoverinfo="skip"))
    reds, blacks = vlines[i]
    for xv in reds:
        shapes.append(dict(type="line", xref=xa, yref=f"{ya} domain", x0=xv, x1=xv, y0=0, y1=1,
                           line=dict(color="red", width=1, dash="dot"), layer="below"))
    for xv in blacks:
        shapes.append(dict(type="line", xref=xa, yref=f"{ya} domain", x0=xv, x1=xv, y0=0, y1=1,
                           line=dict(color="black", width=1, dash="dot"), layer="below"))

    top, bot = boxes[i]
    dom = [1 - bot / H, 1 - top / H]
    is_ecg = (i % 2 == 0)
    xkey = "xaxis" if i == 0 else f"xaxis{i+1}"
    ykey = "yaxis" if i == 0 else f"yaxis{i+1}"
    fig.update_layout(**{
        xkey: dict(domain=[0, 1], anchor=ya, range=[1, 6], tickvals=x_ticks,
                   ticktext=[str(k) for k in x_ticks], ticks="inside", ticklen=4,
                   tickwidth=1, tickcolor="black", showline=True, linecolor="black",
                   linewidth=2, mirror="ticks", showgrid=False, zeroline=False,
                   tickfont=dict(family=FONT, size=15, color="black"),
                   ticklabelstandoff=3, fixedrange=True, automargin=False),
        ykey: dict(domain=dom, anchor=xa, range=yranges[i],
                   tickvals=ecg_ticks if is_ecg else mmg_ticks,
                   ticktext=ecg_tick_text if is_ecg else mmg_tick_text,
                   ticks="inside", ticklen=4, tickwidth=1, tickcolor="black",
                   showline=True, linecolor="black", linewidth=2, mirror="ticks",
                   showgrid=False, zeroline=False,
                   tickfont=dict(family=FONT, size=15, color="black"),
                   ticklabelstandoff=2, fixedrange=True, automargin=False),
    })
    tx, ty = title_pos[i]
    annotations.append(dict(text=titles[i], xref="paper", yref="paper",
                            x=(tx - ML) / PW, y=1 - ty / H, xanchor="center", yanchor="middle",
                            showarrow=False, font=dict(family=FONT, size=16, color="black")))
    annotations.append(dict(text=panel_labels[i], xref="paper", yref="paper",
                            x=(17 - ML) / PW, y=1 - label_y[i] / H, xanchor="center", yanchor="middle",
                            showarrow=False, font=dict(family=FONT, size=16, color="black")))

annotations.append(dict(text="Tiempo (s)", xref="paper", yref="paper",
                        x=(334 - ML) / PW, y=1 - 716 / H, xanchor="center", yanchor="middle",
                        showarrow=False, font=dict(family=FONT, size=16, color="black")))

fig.update_layout(template="none", width=W, height=H, margin=dict(l=ML, r=MR, t=0, b=0, pad=0),
                  paper_bgcolor="white", plot_bgcolor="white",
                  shapes=shapes, annotations=annotations, showlegend=False)

fig.write_html("out.html", config={"displayModeBar": False},
               post_script="document.body.style.margin='0px';document.body.style.padding='0px';")
